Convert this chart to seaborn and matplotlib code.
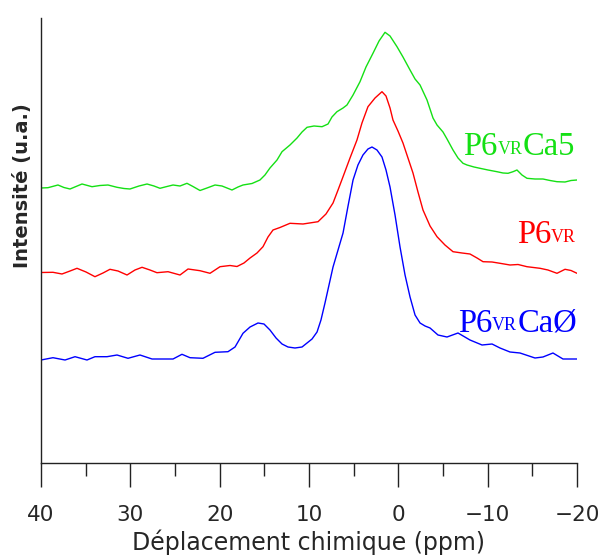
import numpy as np
import pandas as pd
import matplotlib
matplotlib.use("Agg")
import matplotlib.pyplot as plt
from matplotlib.transforms import IdentityTransform
import seaborn as sns

# ---- data (chemical shift in ppm, intensity in arbitrary units) ----
ppm_blue = [40.0, 38.66, 37.31, 36.19, 34.85, 33.96, 32.61, 31.49, 30.26, 28.92, 27.57, 25.22,
            24.22, 23.32, 21.87, 20.52, 19.07, 18.28, 17.39, 16.60, 15.71, 15.04, 14.37, 13.69,
            13.02, 12.35, 11.57, 10.78, 10.22, 9.66, 9.10, 8.66, 8.21, 7.76, 7.31, 6.75, 6.19,
            5.63, 5.07, 4.52, 3.96, 3.40, 2.95, 2.39, 1.83, 1.38, 0.93, 0.37, -0.19, -0.75,
            -1.31, -1.87, -2.43, -2.99, -3.55, -4.44, -5.45, -6.68, -8.02, -9.37, -10.49,
            -11.38, -12.50, -13.62, -15.30, -16.19, -17.31, -18.43, -20.0]
int_blue = [103, 105.3, 103, 106.3, 103, 106.3, 106.3, 108, 104.7, 108, 104, 104,
            108.7, 105.3, 104.7, 110.7, 111.3, 116, 129.7, 136, 140, 139, 133, 125,
            119, 116, 115, 116, 120, 124, 131, 143, 160, 178, 196, 213, 230,
            257, 283, 298, 308, 314, 316, 313, 306, 293, 276, 248, 216, 188,
            166, 148, 140, 137, 135, 128, 126, 130, 123, 118, 119,
            115, 111, 110, 105, 106, 110, 104, 104]

ppm_red = [40.0, 38.66, 37.65, 36.75, 35.97, 34.96, 33.96, 33.06, 32.28, 31.38, 30.37, 29.48,
           28.69, 27.80, 27.02, 25.78, 24.44, 23.54, 22.20, 21.08, 19.96, 18.84, 18.06, 17.28,
           16.60, 15.82, 15.15, 14.59, 14.03, 13.25, 12.13, 10.67, 8.99, 8.10, 7.31, 6.75,
           6.19, 5.41, 4.63, 4.07, 3.40, 2.61, 1.83, 1.38, 0.93, 0.60, 0.04, -0.52, -1.08,
           -1.64, -2.20, -2.76, -3.55, -4.33, -5.22, -6.12, -7.13, -8.02, -8.81, -9.48,
           -10.49, -11.38, -12.50, -13.40, -14.40, -15.86, -16.75, -17.76, -18.66, -19.33, -20.0]
int_red = [190.5, 190.7, 189, 192, 194.7, 191, 186.3, 190, 193.7, 192, 188, 193,
           195.7, 193, 190.3, 191.3, 188, 194, 192.3, 189.7, 196.3, 197.5, 196.5, 200,
           205, 210, 216.3, 226, 233, 235.5, 239.7, 239, 241.3, 249, 260, 273,
           286.3, 305, 323, 340, 356.3, 365, 371.3, 367, 355, 343, 332, 320, 305,
           290, 271, 253, 237, 226.3, 218, 211.3, 210, 209, 205, 201.3,
           201, 199.7, 198, 198.5, 196.3, 194.7, 193, 189.7, 193.7, 192.5, 189.7]

ppm_green = [40.0, 39.22, 38.10, 37.43, 36.75, 36.08, 35.41, 34.29, 33.40, 32.50, 31.49, 30.71,
             30.04, 29.03, 28.13, 27.35, 26.68, 25.90, 25.22, 24.44, 23.66, 22.99, 22.20, 21.42,
             20.52, 19.74, 18.62, 17.95, 17.39, 16.38, 15.49, 14.93, 14.37, 13.58, 13.02, 12.13,
             11.34, 10.78, 10.22, 9.44, 8.54, 7.87, 7.43, 6.87, 6.19, 5.75, 5.07, 4.29, 3.62,
             2.84, 2.16, 1.49, 0.93, 0.15, -0.52, -1.31, -1.87, -2.43, -3.21, -3.88, -4.33,
             -5.00, -5.45, -6.12, -6.68, -7.24, -7.69, -8.47, -9.14, -10.04, -11.04, -11.72,
             -12.28, -12.84, -13.28, -13.84, -14.40, -15.30, -16.19, -16.98, -17.76, -18.66,
             -19.33, -20.0]
int_green = [275, 275.3, 278, 275.5, 274, 276.5, 279, 276.3, 277.5, 278, 275.7, 274.5,
             274, 277, 279, 277, 274.7, 276.5, 278, 277, 279.7, 276.5, 272.5, 275,
             278, 277, 273, 276, 278, 279.5, 283, 288, 295, 303, 311.3, 318,
             325, 331, 335.7, 337, 336.3, 339, 346, 351.3, 355, 358, 368, 381.3, 396,
             409.7, 422, 430.7, 427, 416.3, 406, 393, 384, 378, 363, 345, 338,
             331, 324, 313, 305, 299.7, 298, 296, 294.7, 293, 291.3, 290,
             289.7, 291.3, 293, 288, 284.7, 284, 284, 282.5, 281.3, 281,
             282.5, 283]

samples = ["P6VRCaØ", "P6VR", "P6VRCa5"]
colors = {"P6VRCaØ": "#0000ff", "P6VR": "#ff0000", "P6VRCa5": "#14e014"}
x_ticks = [40, 30, 20, 10, 0, -10, -20]

df = pd.concat([
    pd.DataFrame({"ppm": ppm_blue, "intensity": int_blue, "sample": samples[0]}),
    pd.DataFrame({"ppm": ppm_red, "intensity": int_red, "sample": samples[1]}),
    pd.DataFrame({"ppm": ppm_green, "intensity": int_green, "sample": samples[2]}),
], ignore_index=True)

sns.set_style("white")
plt.rcParams["font.family"] = ["DejaVu Sans"]
plt.rcParams["lines.solid_joinstyle"] = "round"

W, H = 604, 556
fig = plt.figure(figsize=(W / 100, H / 100), dpi=100)
ax = fig.add_axes([41 / W, (H - 463) / H, 536 / W, 445 / H])

sns.lineplot(data=df, x="ppm", y="intensity", hue="sample", palette=colors,
             estimator=None, sort=False, linewidth=1.0, legend=False, ax=ax)

ax.set_xlim(40, -20)
ax.set_ylim(0, 445)
ax.set_xlabel("")
ax.set_ylabel("")
ax.set_yticks([])
ax.set_xticks(x_ticks)
ax.set_xticks([35, 25, 15, 5, -5, -15], minor=True)
ax.tick_params(axis="x", which="major", direction="out", length=17.5, width=1.0,
               color="#222222", labelsize=15.5, pad=13, bottom=True)
ax.tick_params(axis="x", which="minor", direction="out", length=9.5, width=1.0,
               color="#222222", bottom=True)
for s in ["top", "right"]:
    ax.spines[s].set_visible(False)
for s in ["left", "bottom"]:
    ax.spines[s].set_color("#222222")
    ax.spines[s].set_linewidth(1.0)

fig.text(309 / W, 6 / H, "Déplacement chimique (ppm)", ha="center", va="baseline",
         fontsize=17)
fig.text(23 / W, (H - 186) / H, "Intensité (u.a.)", rotation=90, ha="center",
         va="center", fontsize=14, fontweight="bold")

# ---- curve labels with small "VR" on the baseline ----
fig.canvas.draw()
renderer = fig.canvas.get_renderer()
serif = ["Liberation Serif", "DejaVu Serif"]


def put_label(parts, x_right, y_base, color):
    x = x_right
    for txt, size, dy in reversed(parts):
        t = fig.text(x, H - y_base - dy, txt, transform=IdentityTransform(),
                     ha="right", va="baseline", fontsize=size, color=color,
                     family=serif)
        bb = t.get_window_extent(renderer)
        x = bb.x0


put_label([("P6", 23.5, 0), ("VR", 13, -1.5), ("Ca5", 23.5, 0)], 575, 155, colors["P6VRCa5"])
put_label([("P6", 23.5, 0), ("VR", 13, -1.5)], 576, 243, colors["P6VR"])
put_label([("P6", 23.5, 0), ("VR", 13, -1.5), ("CaØ", 23.5, 0)], 577, 332, colors["P6VRCaØ"])

fig.savefig("out.png", dpi=100)
